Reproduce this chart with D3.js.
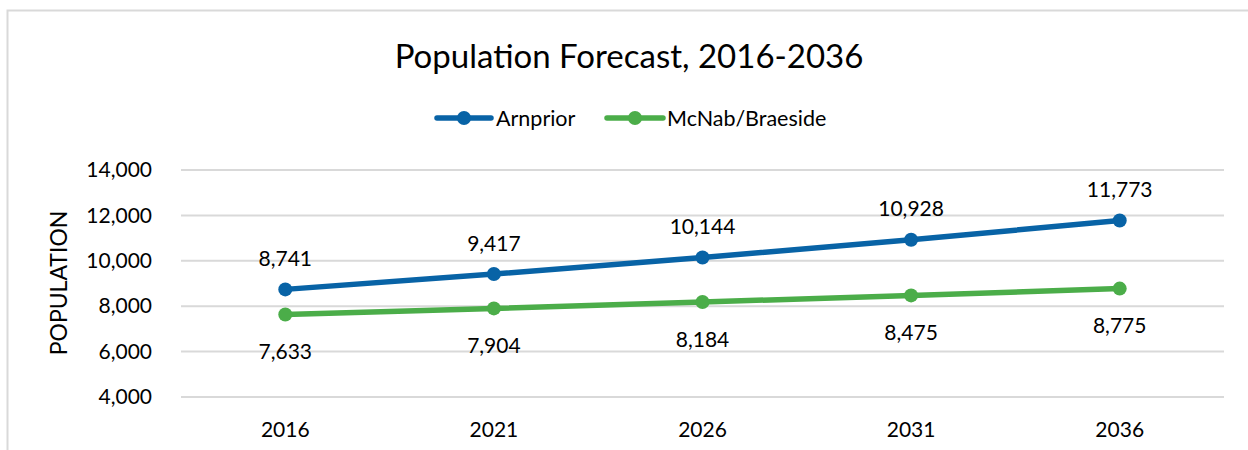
<!DOCTYPE html>
<html>
<head>
<meta charset="utf-8">
<script src="https://cdn.jsdelivr.net/npm/d3@7"></script>
<style>
  html, body { margin: 0; padding: 0; background: #fff; }
  svg { display: block; font-family: Lato, "Open Sans", sans-serif; }
</style>
</head>
<body>
<svg id="chart" width="1248" height="450"></svg>
<script>
const years = ["2016", "2021", "2026", "2031", "2036"];
const arnprior = [8741, 9417, 10144, 10928, 11773];
const mcnab = [7633, 7904, 8184, 8475, 8775];
const seriesNames = ["Arnprior", "McNab/Braeside"];
const yTicks = [4000, 6000, 8000, 10000, 12000, 14000];

const colors = ["#0863a6", "#4bad49"];
const svg = d3.select("#chart");

// outer border
svg.append("rect").attr("x", 7.5).attr("y", 10.5).attr("width", 1260).attr("height", 460)
  .attr("fill", "#fff").attr("stroke", "#d9d9d9").attr("stroke-width", 2);

const x = d3.scaleBand().domain(years).range([181, 1224]).padding(0);
const y = d3.scaleLinear().domain([4000, 14000]).range([397, 170]);
const cx = d => x(d) + x.bandwidth() / 2;

// gridlines
svg.append("g").selectAll("line").data(yTicks).join("line")
  .attr("x1", 181).attr("x2", 1224)
  .attr("y1", d => y(d)).attr("y2", d => y(d))
  .attr("stroke", "#d9d9d9").attr("stroke-width", 2);

// y axis
const yAxis = svg.append("g").attr("transform", "translate(181,0)")
  .call(d3.axisLeft(y).tickValues(yTicks).tickSize(0).tickPadding(29).tickFormat(d3.format(",")));
yAxis.select(".domain").remove();
yAxis.selectAll("text").attr("font-size", 21).attr("fill", "#000").attr("font-family", "Lato");

// x axis
const xAxis = svg.append("g").attr("transform", "translate(0,397)")
  .call(d3.axisBottom(x).tickSize(0).tickPadding(25));
xAxis.select(".domain").remove();
xAxis.selectAll("text").attr("font-size", 21).attr("fill", "#000").attr("font-family", "Lato");

// axis title
svg.append("text").attr("transform", "translate(58,283) rotate(-90)")
  .attr("text-anchor", "middle").attr("dominant-baseline", "central")
  .attr("font-size", 23).attr("fill", "#000").text("POPULATION");

// title
svg.append("text").attr("x", 629).attr("y", 55)
  .attr("text-anchor", "middle").attr("dominant-baseline", "central")
  .attr("font-size", 33).attr("fill", "#000").text("Population Forecast, 2016-2036");

// lines
const series = [arnprior, mcnab];
const line = d3.line().x((d, i) => cx(years[i])).y(d => y(d));
series.forEach((vals, s) => {
  svg.append("path").datum(vals).attr("d", line)
    .attr("fill", "none").attr("stroke", colors[s]).attr("stroke-width", 5.5)
    .attr("stroke-linecap", "round").attr("stroke-linejoin", "round");
  svg.append("g").selectAll("circle").data(vals).join("circle")
    .attr("cx", (d, i) => cx(years[i])).attr("cy", d => y(d)).attr("r", 7)
    .attr("fill", colors[s]);
  svg.append("g").selectAll("text").data(vals).join("text")
    .attr("x", (d, i) => cx(years[i]))
    .attr("y", d => y(d) + (s === 0 ? -32 : 36))
    .attr("text-anchor", "middle").attr("dominant-baseline", "central")
    .attr("font-size", 21).attr("fill", "#000")
    .text(d => d3.format(",")(d));
});

// legend
const legendItems = [
  { name: seriesNames[0], x1: 437, x2: 491, tx: 496 },
  { name: seriesNames[1], x1: 607, x2: 663, tx: 667 }
];
legendItems.forEach((it, i) => {
  const g = svg.append("g");
  g.append("line").attr("x1", it.x1).attr("x2", it.x2).attr("y1", 118).attr("y2", 118)
    .attr("stroke", colors[i]).attr("stroke-width", 5.5).attr("stroke-linecap", "round");
  g.append("circle").attr("cx", (it.x1 + it.x2) / 2).attr("cy", 118).attr("r", 7).attr("fill", colors[i]);
  g.append("text").attr("x", it.tx).attr("y", 118).attr("dominant-baseline", "central")
    .attr("font-size", 21.5).attr("fill", "#000").text(it.name);
});
</script>
</body>
</html>
